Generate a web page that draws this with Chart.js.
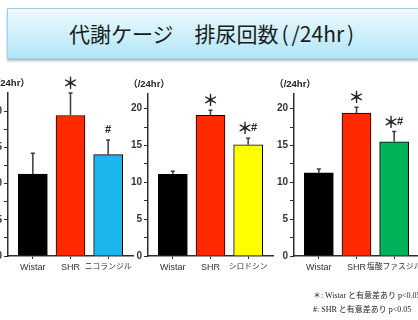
<!DOCTYPE html>
<html>
<head>
<meta charset="utf-8">
<script src="https://cdn.jsdelivr.net/npm/chart.js@4.4.1/dist/chart.umd.min.js"></script>
<style>
  html, body { margin: 0; padding: 0; background: #fff; }
  body { position: relative; width: 418px; height: 320px; overflow: hidden;
         font-family: "Noto Sans CJK JP", sans-serif; }
  .banner { position: absolute; left: 7px; top: 8px; width: 440px; height: 49px;
            background: linear-gradient(#eefafe, #b1e6f9);
            border: 1px solid #9fd2e6; box-shadow: 0 2px 2px rgba(80,110,130,.45); }
  .banner span.t { position: absolute; left: 61px; top: 10px; font-size: 21px; line-height: 28px;
                   color: #1b1b1b; white-space: nowrap; }
  .banner .p { display: inline-block; width: 13px; text-align: center; }
  canvas { position: absolute; }
  .note { position: absolute; left: 313px; font-size: 8px; line-height: 10px; white-space: nowrap;
          color: #222; font-family: "Liberation Serif", "Noto Sans CJK JP", serif; }
</style>
</head>
<body>
<div class="banner"><span class="t">代謝ケージ　排尿回数<span class="p">(</span>/24hr<span class="p">)</span></span></div>
<canvas id="c1" width="195" height="209" style="left:-22px; top:73px;"></canvas>
<canvas id="c2" width="195" height="208" style="left:118px; top:74px;"></canvas>
<canvas id="c3" width="195" height="208" style="left:264px; top:74px;"></canvas>
<div class="note" style="top:291px;">＊: Wistar と有意差あり p&lt;0.05</div>
<div class="note" style="top:305px;">#: SHR と有意差あり p&lt;0.05</div>

<script>
// Urination count per 24 h, mean and SD for each group
const yTicks = [0, 2.5, 5, 7.5, 10, 12.5, 15, 17.5, 20];
const unitLabel = '（/24hr）';

const groupsNicorandil = ['Wistar', 'SHR', 'ニコランジル'];
const meanNicorandil   = [11.3, 19.4, 14.0];
const sdNicorandil     = [2.9, 3.1, 2.0];
const markNicorandil   = ['', '＊', '#'];

const groupsSilodosin  = ['Wistar', 'SHR', 'シロドシン'];
const meanSilodosin    = [11.1, 19.1, 15.1];
const sdSilodosin      = [0.4, 0.7, 0.9];
const markSilodosin    = ['', '＊', '＊#'];

const groupsFasudil    = ['Wistar', 'SHR', '塩酸ファスジル'];
const meanFasudil      = [11.3, 19.4, 15.5];
const sdFasudil        = [0.5, 0.8, 1.4];
const markFasudil      = ['', '＊', '＊#'];

// bar fills
const fillNicorandil = ['#000000', '#ff2a00', '#1cb6ee'];
const fillSilodosin  = ['#000000', '#ff2a00', '#ffff00'];
const fillFasudil    = ['#000000', '#ff2a00', '#00b25a'];

const axisColor = '#2e2e2e';
const latinFont = '"Liberation Sans", "Noto Sans CJK JP", sans-serif';

function makePanel(id, groups, means, sds, marks, fills, yMax) {
  const positions = groups.map((g, i) => i + 1);
  const isLatin = s => /^[\x00-\x7f]*$/.test(s);

  // SD whiskers, significance marks and the unit label over the y axis
  const annotate = {
    id: 'annotate',
    afterDatasetsDraw(chart) {
      const { ctx, chartArea, scales: { x, y } } = chart;
      ctx.save();
      ctx.fillStyle = '#222';
      ctx.textAlign = 'center';
      ctx.textBaseline = 'middle';
      ctx.font = 'bold 9.5px ' + latinFont;
      ctx.fillText(unitLabel, chartArea.left + 1, chartArea.top - 10);

      means.forEach((m, i) => {
        const px = x.getPixelForValue(positions[i]);
        const yMean = y.getPixelForValue(m);
        const yTop = y.getPixelForValue(m + sds[i]);
        ctx.strokeStyle = '#3a3a3a';
        ctx.lineWidth = 1.5;
        ctx.beginPath();
        ctx.moveTo(px, yMean);
        ctx.lineTo(px, yTop);
        ctx.moveTo(px - 2, yTop);
        ctx.lineTo(px + 2, yTop);
        ctx.stroke();

        const chars = Array.from(marks[i]);
        if (!chars.length) return;
        const fontFor = ch => ch === '#' ? 'bold 11px ' + latinFont : 'bold 16px "Noto Sans CJK JP", sans-serif';
        const widths = chars.map(ch => { ctx.font = fontFor(ch); return ctx.measureText(ch).width * (ch === '#' ? 1 : 0.75); });
        let cx = px - widths.reduce((a, b) => a + b, 0) / 2;
        chars.forEach((ch, k) => {
          ctx.font = fontFor(ch);
          ctx.fillText(ch, cx + widths[k] / 2, yTop - 10);
          cx += widths[k];
        });
      });
      ctx.restore();
    }
  };

  return new Chart(document.getElementById(id), {
    type: 'bar',
    data: {
      datasets: [{
        data: positions.map((p, i) => ({ x: p, y: means[i] })),
        backgroundColor: fills,
        borderColor: '#000',
        borderWidth: 1,
        borderSkipped: 'bottom',
        barThickness: 29
      }]
    },
    options: {
      responsive: false,
      animation: false,
      layout: { padding: { top: 20, right: 40, left: 0, bottom: 0 } },
      plugins: { legend: { display: false }, tooltip: { enabled: false } },
      scales: {
        x: {
          type: 'linear',
          offset: false,
          min: 0.34,
          max: 3.66,
          afterBuildTicks: s => { s.ticks = positions.map(v => ({ value: v })); },
          afterFit: s => { s.height = 26; },
          grid: { offset: false, drawOnChartArea: false, drawTicks: true, tickLength: 3, color: axisColor, lineWidth: 1 },
          border: { display: true, color: axisColor, width: 1.5 },
          ticks: {
            autoSkip: false, maxRotation: 0, padding: 3, color: '#333',
            font: c => ({ size: c.tick && !isLatin(groups[c.tick.value - 1] || '') ? 7.8 : 9, family: latinFont }),
            callback: v => groups[v - 1]
          }
        },
        y: {
          min: 0,
          max: yMax,
          afterBuildTicks: s => { s.ticks = yTicks.map(v => ({ value: v })); },
          afterFit: s => { s.width = 30; },
          grid: { drawOnChartArea: false, drawTicks: true, tickLength: 4, color: axisColor, lineWidth: 1 },
          border: { display: true, color: axisColor, width: 1.5 },
          ticks: {
            padding: 2, color: '#333',
            font: { size: 10, weight: 'bold', family: latinFont },
            callback: v => (v % 5 === 0 ? String(v) : '')
          }
        }
      }
    },
    plugins: [annotate]
  });
}

makePanel('c1', groupsNicorandil, meanNicorandil, sdNicorandil, markNicorandil, fillNicorandil, 22.5);
makePanel('c2', groupsSilodosin, meanSilodosin, sdSilodosin, markSilodosin, fillSilodosin, 22);
makePanel('c3', groupsFasudil, meanFasudil, sdFasudil, markFasudil, fillFasudil, 22);
</script>
</body>
</html>
